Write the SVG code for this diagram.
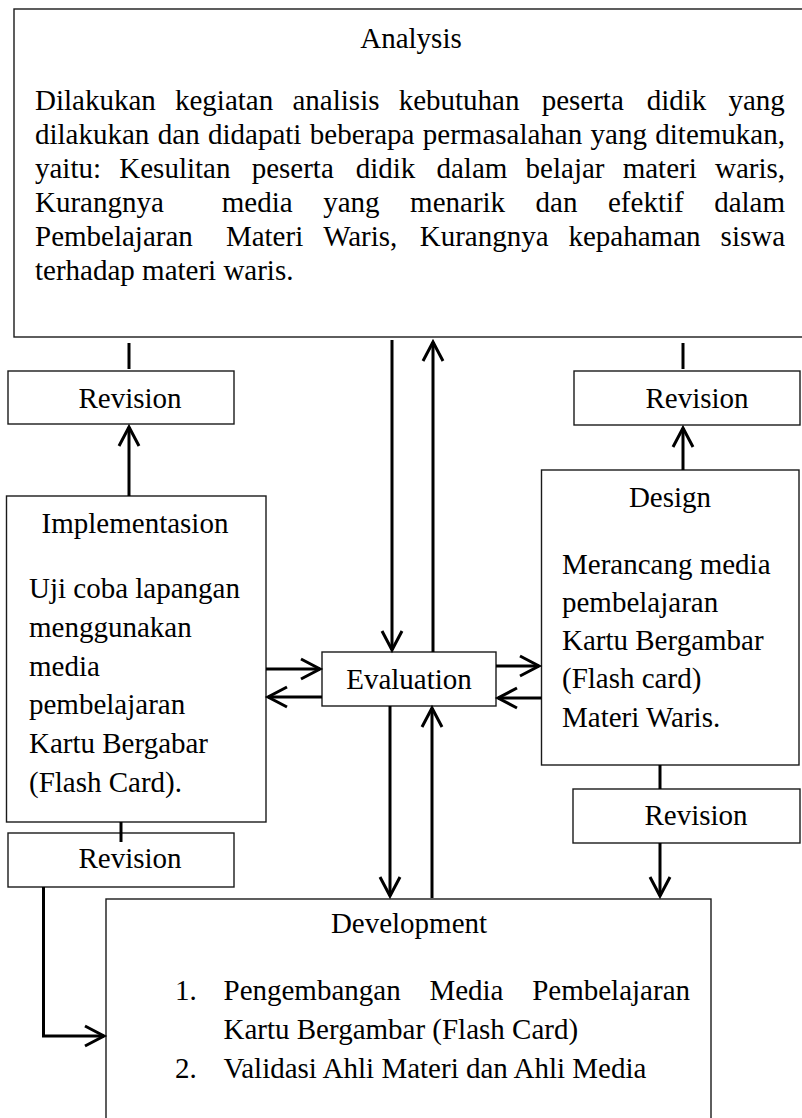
<svg xmlns="http://www.w3.org/2000/svg" width="802" height="1118" viewBox="0 0 802 1118">
<style>
.box{fill:#fff;stroke:#1a1a1a;stroke-width:1.4}
.t{font-family:"Liberation Serif","Times New Roman",serif;font-size:29px;fill:#000}
.c{text-anchor:middle}
.conn{stroke:#000;stroke-width:3;fill:none}
.arr{marker-end:url(#arr)}
</style>
<defs>
<marker id="arr" markerUnits="userSpaceOnUse" markerWidth="26" markerHeight="26" viewBox="-23 -13 26 26" refX="0" refY="0" orient="auto" overflow="visible">
<path d="M-19,-10 L0,0 L-19,10" fill="none" stroke="#000" stroke-width="3"/>
</marker>
</defs>
<rect width="802" height="1118" fill="#fff"/>

<g id="analysis">
<rect class="box" x="14" y="9" width="800" height="328"/>
<text class="t c" x="411" y="48">Analysis</text>
<text class="t" y="110"><tspan x="35">Dilakukan</tspan><tspan x="175">kegiatan</tspan><tspan x="292.5">analisis</tspan><tspan x="398.7">kebutuhan</tspan><tspan x="541.7">peserta</tspan><tspan x="646.7">didik</tspan><tspan x="728.5">yang</tspan></text>
<text class="t" y="144"><tspan x="35">dilakukan</tspan><tspan x="157.8">dan</tspan><tspan x="208">didapati</tspan><tspan x="309.8">beberapa</tspan><tspan x="422.8">permasalahan</tspan><tspan x="590.6">yang</tspan><tspan x="655.3">ditemukan,</tspan></text>
<text class="t" y="178"><tspan x="35">yaitu:</tspan><tspan x="119.3">Kesulitan</tspan><tspan x="251.7">peserta</tspan><tspan x="355.7">didik</tspan><tspan x="436.5">dalam</tspan><tspan x="525.6">belajar</tspan><tspan x="622.7">materi</tspan><tspan x="715">waris,</tspan></text>
<text class="t" y="212"><tspan x="35">Kurangnya</tspan><tspan x="221.8">media</tspan><tspan x="323.2">yang</tspan><tspan x="410.1">menarik</tspan><tspan x="535.6">dan</tspan><tspan x="608">efektif</tspan><tspan x="714.2">dalam</tspan></text>
<text class="t" y="246"><tspan x="35">Pembelajaran</tspan><tspan x="225.9">Materi</tspan><tspan x="323.2">Waris,</tspan><tspan x="419.7">Kurangnya</tspan><tspan x="568.5">kepahaman</tspan><tspan x="720.6">siswa</tspan></text>
<text class="t" x="35" y="280">terhadap materi waris.</text>
</g>

<g id="revision-top-left">
<rect class="box" x="8" y="371" width="226" height="53"/>
<text class="t c" x="130" y="408">Revision</text>
</g>

<g id="revision-top-right">
<rect class="box" x="574" y="371" width="226" height="54"/>
<text class="t c" x="697" y="408">Revision</text>
</g>

<g id="implementation">
<rect class="box" x="6.5" y="496" width="259.5" height="326"/>
<text class="t c" x="135" y="533">Implementasion</text>
<text class="t" x="29" y="598">Uji coba lapangan</text>
<text class="t" x="29" y="637">menggunakan</text>
<text class="t" x="29" y="676">media</text>
<text class="t" x="29" y="714">pembelajaran</text>
<text class="t" x="29" y="753">Kartu Bergabar</text>
<text class="t" x="29" y="792">(Flash Card).</text>
</g>

<g id="design">
<rect class="box" x="541.5" y="470" width="257.5" height="295"/>
<text class="t c" x="670" y="507">Design</text>
<text class="t" x="562" y="574">Merancang media</text>
<text class="t" x="562" y="612">pembelajaran</text>
<text class="t" x="562" y="650">Kartu Bergambar</text>
<text class="t" x="562" y="688">(Flash card)</text>
<text class="t" x="562" y="727">Materi Waris.</text>
</g>

<g id="evaluation">
<rect class="box" x="322" y="652" width="174" height="54"/>
<text class="t c" x="409" y="689">Evaluation</text>
</g>

<g id="revision-bottom-left">
<rect class="box" x="8" y="833" width="226" height="54"/>
<text class="t c" x="130" y="868">Revision</text>
</g>

<g id="revision-bottom-right">
<rect class="box" x="573" y="789" width="227" height="54"/>
<text class="t c" x="696" y="825">Revision</text>
</g>

<g id="development">
<rect class="box" x="106" y="899" width="605" height="240"/>
<text class="t c" x="409" y="933">Development</text>
<text class="t" x="175" y="1000">1.</text>
<text class="t" y="1000"><tspan x="223.5">Pengembangan</tspan><tspan x="429.4">Media</tspan><tspan x="532.2">Pembelajaran</tspan></text>
<text class="t" x="223.5" y="1039">Kartu Bergambar (Flash Card)</text>
<text class="t" x="175" y="1078">2.</text>
<text class="t" x="223.5" y="1078">Validasi Ahli Materi dan Ahli Media</text>
</g>

<g id="connectors">
<path class="conn" d="M129,343 V369"/>
<path class="conn arr" d="M129,496 V427"/>
<path class="conn" d="M683,343 V369"/>
<path class="conn arr" d="M683,470 V428"/>
<path class="conn arr" d="M392,340 V650"/>
<path class="conn arr" d="M433,652 V342"/>
<path class="conn arr" d="M266,669 H320"/>
<path class="conn arr" d="M322,697 H268"/>
<path class="conn arr" d="M496,666 H539"/>
<path class="conn arr" d="M541.5,698 H498"/>
<path class="conn arr" d="M390,706 V896"/>
<path class="conn arr" d="M432,898 V708"/>
<path class="conn" d="M121,822 V842"/>
<path class="conn" d="M660,765 V789"/>
<path class="conn arr" d="M660,843 V896"/>
<path class="conn arr" d="M43.5,887 V1036 H104"/>
</g>
</svg>
